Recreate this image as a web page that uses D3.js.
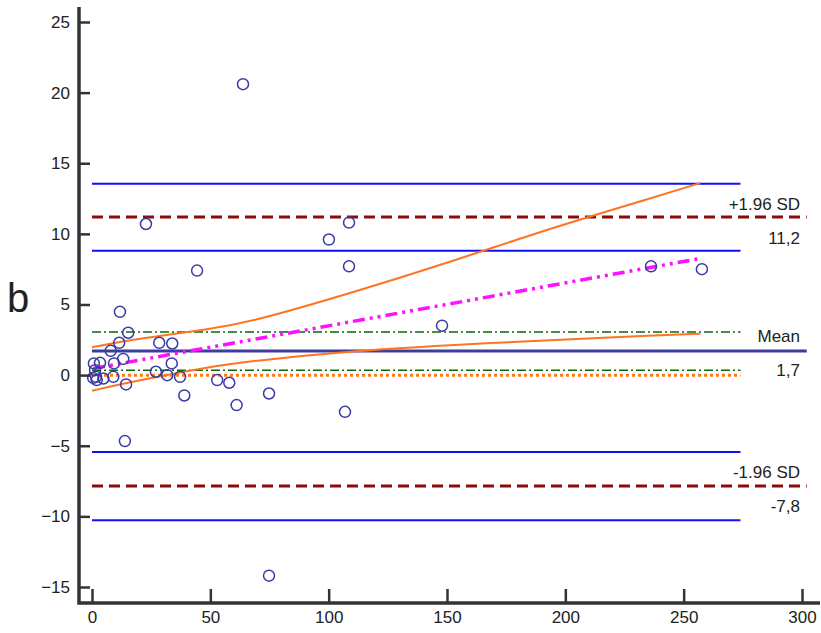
<!DOCTYPE html>
<html>
<head>
<meta charset="utf-8">
<script src="https://cdn.jsdelivr.net/npm/d3@7"></script>
<style>
  body { margin: 0; background: #fff; }
  svg text { font-family: "Liberation Sans", Arial, sans-serif; fill: #222; }
</style>
</head>
<body>
<svg id="chart" width="821" height="633"></svg>
<script>
// Puntos (media, diferencia)
const pointsX = [63.8, 22.8, 44.4, 100.1, 108.6, 108.6, 236.2, 257.7, 147.9,
  11.8, 15.3, 11.5, 28.4, 33.9, 7.9, 13.2, 9.3, 3.4, 0.8, 33.7, 27.0, 31.8, 37.2,
  9.0, 4.8, 1.7, 1.3, 2.0, 0.5, 14.4, 39.0, 52.9, 58.0, 61.1, 74.8, 106.9, 13.9, 74.8];
const pointsY = [20.6, 10.7, 7.4, 9.6, 10.8, 7.7, 7.7, 7.5, 3.5,
  4.48, 3.0, 2.29, 2.29, 2.24, 1.72, 1.15, 0.83, 0.87, 0.83, 0.83, 0.24, 0.0, -0.12,
  -0.12, -0.24, -0.12, 0.35, -0.35, -0.2, -0.66, -1.44, -0.35, -0.54, -2.12, -1.3, -2.6, -4.67, -14.2];

// Líneas horizontales
const meanValue = 1.7;
const meanCI = [3.05, 0.35];
const loaValues = [11.2, -7.85];
const loaCI = [13.55, 8.8, -5.45, -10.27];
const zeroValue = 0;

// Recta de regresión y bandas de confianza
const regX = [0.5, 257];
const regY = [0.47, 8.26];
const upperBandX = [0, 20.3, 50, 66.8, 109, 151.2, 193.5, 235.7, 257];
const upperBandY = [1.98, 2.6, 3.25, 3.75, 5.79, 8.0, 10.39, 12.5, 13.6];
const lowerBandX = [0, 20.3, 50, 66.8, 109, 151.2, 193.5, 235.7, 257];
const lowerBandY = [-1.1, -0.35, 0.6, 0.99, 1.7, 2.12, 2.48, 2.79, 2.93];

const xTicks = [0, 50, 100, 150, 200, 250, 300];
const yTicks = [-15, -10, -5, 0, 5, 10, 15, 20, 25];

const svg = d3.select('#chart');

const x = d3.scaleLinear().domain([0, 300]).range([92, 802]);
const y = d3.scaleLinear().domain([-15, 25]).range([587, 22]);

const lineEnd = 274;   // fin de las líneas cortas
const fullEnd = 302;   // fin de media y LoA

// Líneas IC de los límites
svg.append('g').selectAll('line')
  .data(loaCI)
  .join('line')
  .attr('x1', x(0)).attr('x2', x(lineEnd))
  .attr('y1', d => y(d)).attr('y2', d => y(d))
  .attr('stroke', '#1010f0')
  .attr('stroke-width', 2);

// IC de la media
svg.append('g').selectAll('line')
  .data(meanCI)
  .join('line')
  .attr('x1', x(0)).attr('x2', x(lineEnd))
  .attr('y1', d => y(d)).attr('y2', d => y(d))
  .attr('stroke', '#0a6a0a')
  .attr('stroke-width', 1.6)
  .attr('stroke-dasharray', '9,3,2,3');

// Línea de cero
svg.append('line')
  .attr('x1', x(0)).attr('x2', x(lineEnd))
  .attr('y1', y(zeroValue)).attr('y2', y(zeroValue))
  .attr('stroke', '#ff7a1a')
  .attr('stroke-width', 3)
  .attr('stroke-dasharray', '3,3');

// Límites de acuerdo
svg.append('g').selectAll('line')
  .data(loaValues)
  .join('line')
  .attr('x1', x(0)).attr('x2', x(fullEnd))
  .attr('y1', d => y(d)).attr('y2', d => y(d))
  .attr('stroke', '#8b0a0a')
  .attr('stroke-width', 3)
  .attr('stroke-dasharray', '11,6');

// Media
svg.append('line')
  .attr('x1', x(0)).attr('x2', x(fullEnd))
  .attr('y1', y(meanValue)).attr('y2', y(meanValue))
  .attr('stroke', '#3c3c9c')
  .attr('stroke-width', 3);

// Bandas de confianza
const band = d3.line().curve(d3.curveBasis);
svg.append('path')
  .attr('d', band(upperBandX.map((d, i) => [x(d), y(upperBandY[i])])))
  .attr('fill', 'none').attr('stroke', '#ff7420').attr('stroke-width', 2);
svg.append('path')
  .attr('d', band(lowerBandX.map((d, i) => [x(d), y(lowerBandY[i])])))
  .attr('fill', 'none').attr('stroke', '#ff7420').attr('stroke-width', 2);

// Regresión
svg.append('line')
  .attr('x1', x(regX[0])).attr('y1', y(regY[0]))
  .attr('x2', x(regX[1])).attr('y2', y(regY[1]))
  .attr('stroke', '#ff10ff')
  .attr('stroke-width', 3.5)
  .attr('stroke-dasharray', '12,5,3,5,3,5');

// Puntos
svg.append('g').selectAll('circle')
  .data(pointsX.map((d, i) => [d, pointsY[i]]))
  .join('circle')
  .attr('cx', d => x(d[0]))
  .attr('cy', d => y(d[1]))
  .attr('r', 5.5)
  .attr('fill', 'none')
  .attr('stroke', '#3a3aa6')
  .attr('stroke-width', 1.5);

// Etiquetas a la derecha
const labels = [
  { t: '+1.96 SD', v: loaValues[0], dy: -7 },
  { t: '11,2', v: loaValues[0], dy: 27 },
  { t: 'Mean', v: meanValue, dy: -9 },
  { t: '1,7', v: meanValue, dy: 25 },
  { t: '-1.96 SD', v: loaValues[1], dy: -8 },
  { t: '-7,8', v: loaValues[1], dy: 26 }
];
svg.append('g').selectAll('text')
  .data(labels)
  .join('text')
  .attr('x', 800)
  .attr('y', d => y(d.v) + d.dy)
  .attr('text-anchor', 'end')
  .attr('font-size', 17)
  .text(d => d.t);

// Ejes
const fontAxis = '"Liberation Sans", Arial, sans-serif';
const yAxis = d3.axisLeft(y).tickValues(yTicks).tickSizeInner(-11).tickSizeOuter(0).tickPadding(9);
const gy = svg.append('g').attr('transform', 'translate(79,0)').call(yAxis);
gy.select('.domain').remove();
gy.selectAll('.tick line').attr('stroke', '#333').attr('stroke-width', 2.5);
gy.selectAll('.tick text').attr('font-size', 17).attr('font-family', fontAxis).attr('fill', '#222');

const xAxis = d3.axisBottom(x).tickValues(xTicks).tickSizeInner(-14).tickSizeOuter(0).tickPadding(8);
const gx = svg.append('g').attr('transform', 'translate(0,603)').call(xAxis);
gx.select('.domain').remove();
gx.selectAll('.tick line').attr('stroke', '#333').attr('stroke-width', 2.5);
gx.selectAll('.tick text').attr('font-size', 17).attr('font-family', fontAxis).attr('fill', '#222');

svg.append('path')
  .attr('d', 'M79,7 L79,603 L820,603')
  .attr('fill', 'none')
  .attr('stroke', '#333')
  .attr('stroke-width', 3.5);

// Letra del panel
svg.append('text')
  .attr('x', 7)
  .attr('y', 312)
  .attr('font-size', 40)
  .text('b');
</script>
</body>
</html>
